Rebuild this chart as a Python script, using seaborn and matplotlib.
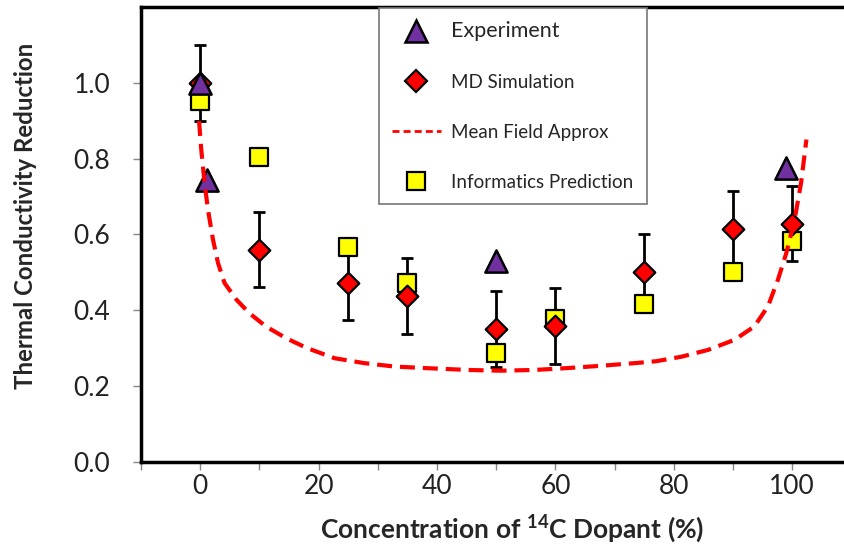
import numpy as np
import pandas as pd
import seaborn as sns
from matplotlib import pyplot as plt
from matplotlib.lines import Line2D

# concentration of 14C dopant (%)
conc_exp = [0, 1.1, 50, 99]
exp_vals = [1.0, 0.745, 0.529, 0.776]

conc_md = [0, 10, 25, 35, 50, 60, 75, 90, 100]
md_vals = [1.0, 0.56, 0.473, 0.438, 0.35, 0.358, 0.502, 0.614, 0.629]
md_err = [0.10, 0.10, 0.10, 0.10, 0.10, 0.10, 0.10, 0.10, 0.10]

conc_inf = [0, 10, 25, 35, 50, 60, 75, 90, 100]
inf_vals = [0.953, 0.806, 0.568, 0.472, 0.287, 0.377, 0.416, 0.502, 0.584]

# mean field approximation curve
mf_x = [-0.2, 0.17, 0.73, 1.3, 2.15, 3.0, 4.1, 6.1, 8.3, 11.1, 14.5, 18.0,
        22.7, 27.7, 32.8, 37.9, 45.2, 50.8, 56.5, 62.1, 67.7, 73.4, 77.0,
        81.3, 85.8, 90.3, 93.6, 95.9, 97.6, 99.0, 100.4, 101.5, 102.4]
mf_y = [0.900, 0.825, 0.737, 0.666, 0.587, 0.525, 0.472, 0.428, 0.392, 0.357,
        0.326, 0.300, 0.273, 0.260, 0.251, 0.247, 0.242, 0.240, 0.242, 0.247,
        0.253, 0.260, 0.265, 0.277, 0.295, 0.322, 0.357, 0.410, 0.481, 0.551,
        0.639, 0.737, 0.851]

x_labels = ['0', '20', '40', '60', '80', '100']
y_labels = ['0.0', '0.2', '0.4', '0.6', '0.8', '1.0']

sns.set_style('ticks')
plt.rcParams['font.family'] = ['Lato', 'DejaVu Sans']
plt.rcParams['mathtext.fontset'] = 'custom'
plt.rcParams['mathtext.rm'] = 'Lato'
plt.rcParams['mathtext.bf'] = 'Lato:bold'

df_exp = pd.DataFrame({'conc': conc_exp, 'val': exp_vals})
df_md = pd.DataFrame({'conc': conc_md, 'val': md_vals, 'err': md_err})
df_inf = pd.DataFrame({'conc': conc_inf, 'val': inf_vals})
df_mf = pd.DataFrame({'conc': mf_x, 'val': mf_y})

fig = plt.figure(figsize=(8.45, 5.47), dpi=100)
ax = fig.add_axes([0.1669, 0.1563, 0.8407, 0.8300])

purple = '#7030A0'
red = '#FF0000'
yellow = '#FFFF00'

# error bars of the MD simulation
ax.errorbar(df_md['conc'], df_md['val'], yerr=df_md['err'], fmt='none',
            ecolor='black', elinewidth=2.0, capsize=4.3, capthick=2.0, zorder=2)

sns.scatterplot(data=df_inf, x='conc', y='val', marker='s', s=13**2,
                color=yellow, edgecolor='black', linewidth=1.6, zorder=3, ax=ax)
sns.scatterplot(data=df_md, x='conc', y='val', marker='D', s=11**2,
                color=red, edgecolor='black', linewidth=1.6, zorder=4, ax=ax)
sns.scatterplot(data=df_exp, x='conc', y='val', marker='^', s=16**2,
                color=purple, edgecolor='black', linewidth=1.8, zorder=5, ax=ax)
sns.lineplot(data=df_mf, x='conc', y='val', sort=False, color=red,
             linewidth=3, zorder=6, ax=ax)
ax.lines[-1].set_dashes((3.6, 1.9))

ax.set_xlim(-10, 110)
ax.set_ylim(0, 1.2)
ax.set_xticks([0, 20, 40, 60, 80, 100])
ax.set_xticklabels(x_labels)
ax.set_xticks([-10, 10, 30, 50, 70, 90], minor=True)
ax.set_yticks([0, 0.2, 0.4, 0.6, 0.8, 1.0])
ax.set_yticklabels(y_labels)
ax.tick_params(axis='both', which='both', direction='out', length=6,
               width=1, color='#888888', labelsize=19, labelcolor='#222222')
ax.tick_params(axis='y', pad=16)
ax.tick_params(axis='x', pad=3)

for side in ['left', 'bottom', 'top']:
    ax.spines[side].set_visible(True)
    ax.spines[side].set_linewidth(2.5)
    ax.spines[side].set_color('black')
ax.spines['right'].set_visible(False)

ax.set_xlabel(r'Concentration of $\mathbf{^{14}}$C Dopant (%)',
              fontsize=19, fontweight='bold', va='center')
ax.xaxis.set_label_coords(0.523, -0.148)
ax.set_ylabel('Thermal Conductivity Reduction', fontsize=17.3,
              fontweight='bold', va='center')
ax.yaxis.set_label_coords(-0.163, 0.54)

handles = [
    Line2D([], [], ls='none', marker='^', ms=16, mfc=purple, mec='black', mew=1.8),
    Line2D([], [], ls='none', marker='D', ms=11, mfc=red, mec='black', mew=1.6),
    Line2D([], [], color=red, lw=2, ls=(0, (2.5, 1.5))),
    Line2D([], [], ls='none', marker='s', ms=13, mfc=yellow, mec='black', mew=1.6),
]
labels = ['Experiment', 'MD Simulation', 'Mean Field Approx', 'Informatics Prediction']
leg = fig.legend(handles, labels, loc='upper left',
                 bbox_to_anchor=(379 / 845, 1 - 8 / 547), fontsize=13.5,
                 frameon=True, fancybox=False, edgecolor='#777777',
                 framealpha=1, borderpad=0.7, borderaxespad=0,
                 handlelength=2.6, handletextpad=0.55, labelspacing=1.75)
leg.get_frame().set_linewidth(1.2)
leg.get_texts()[0].set_fontsize(15.5)

fig.savefig('out.png', dpi=100)
